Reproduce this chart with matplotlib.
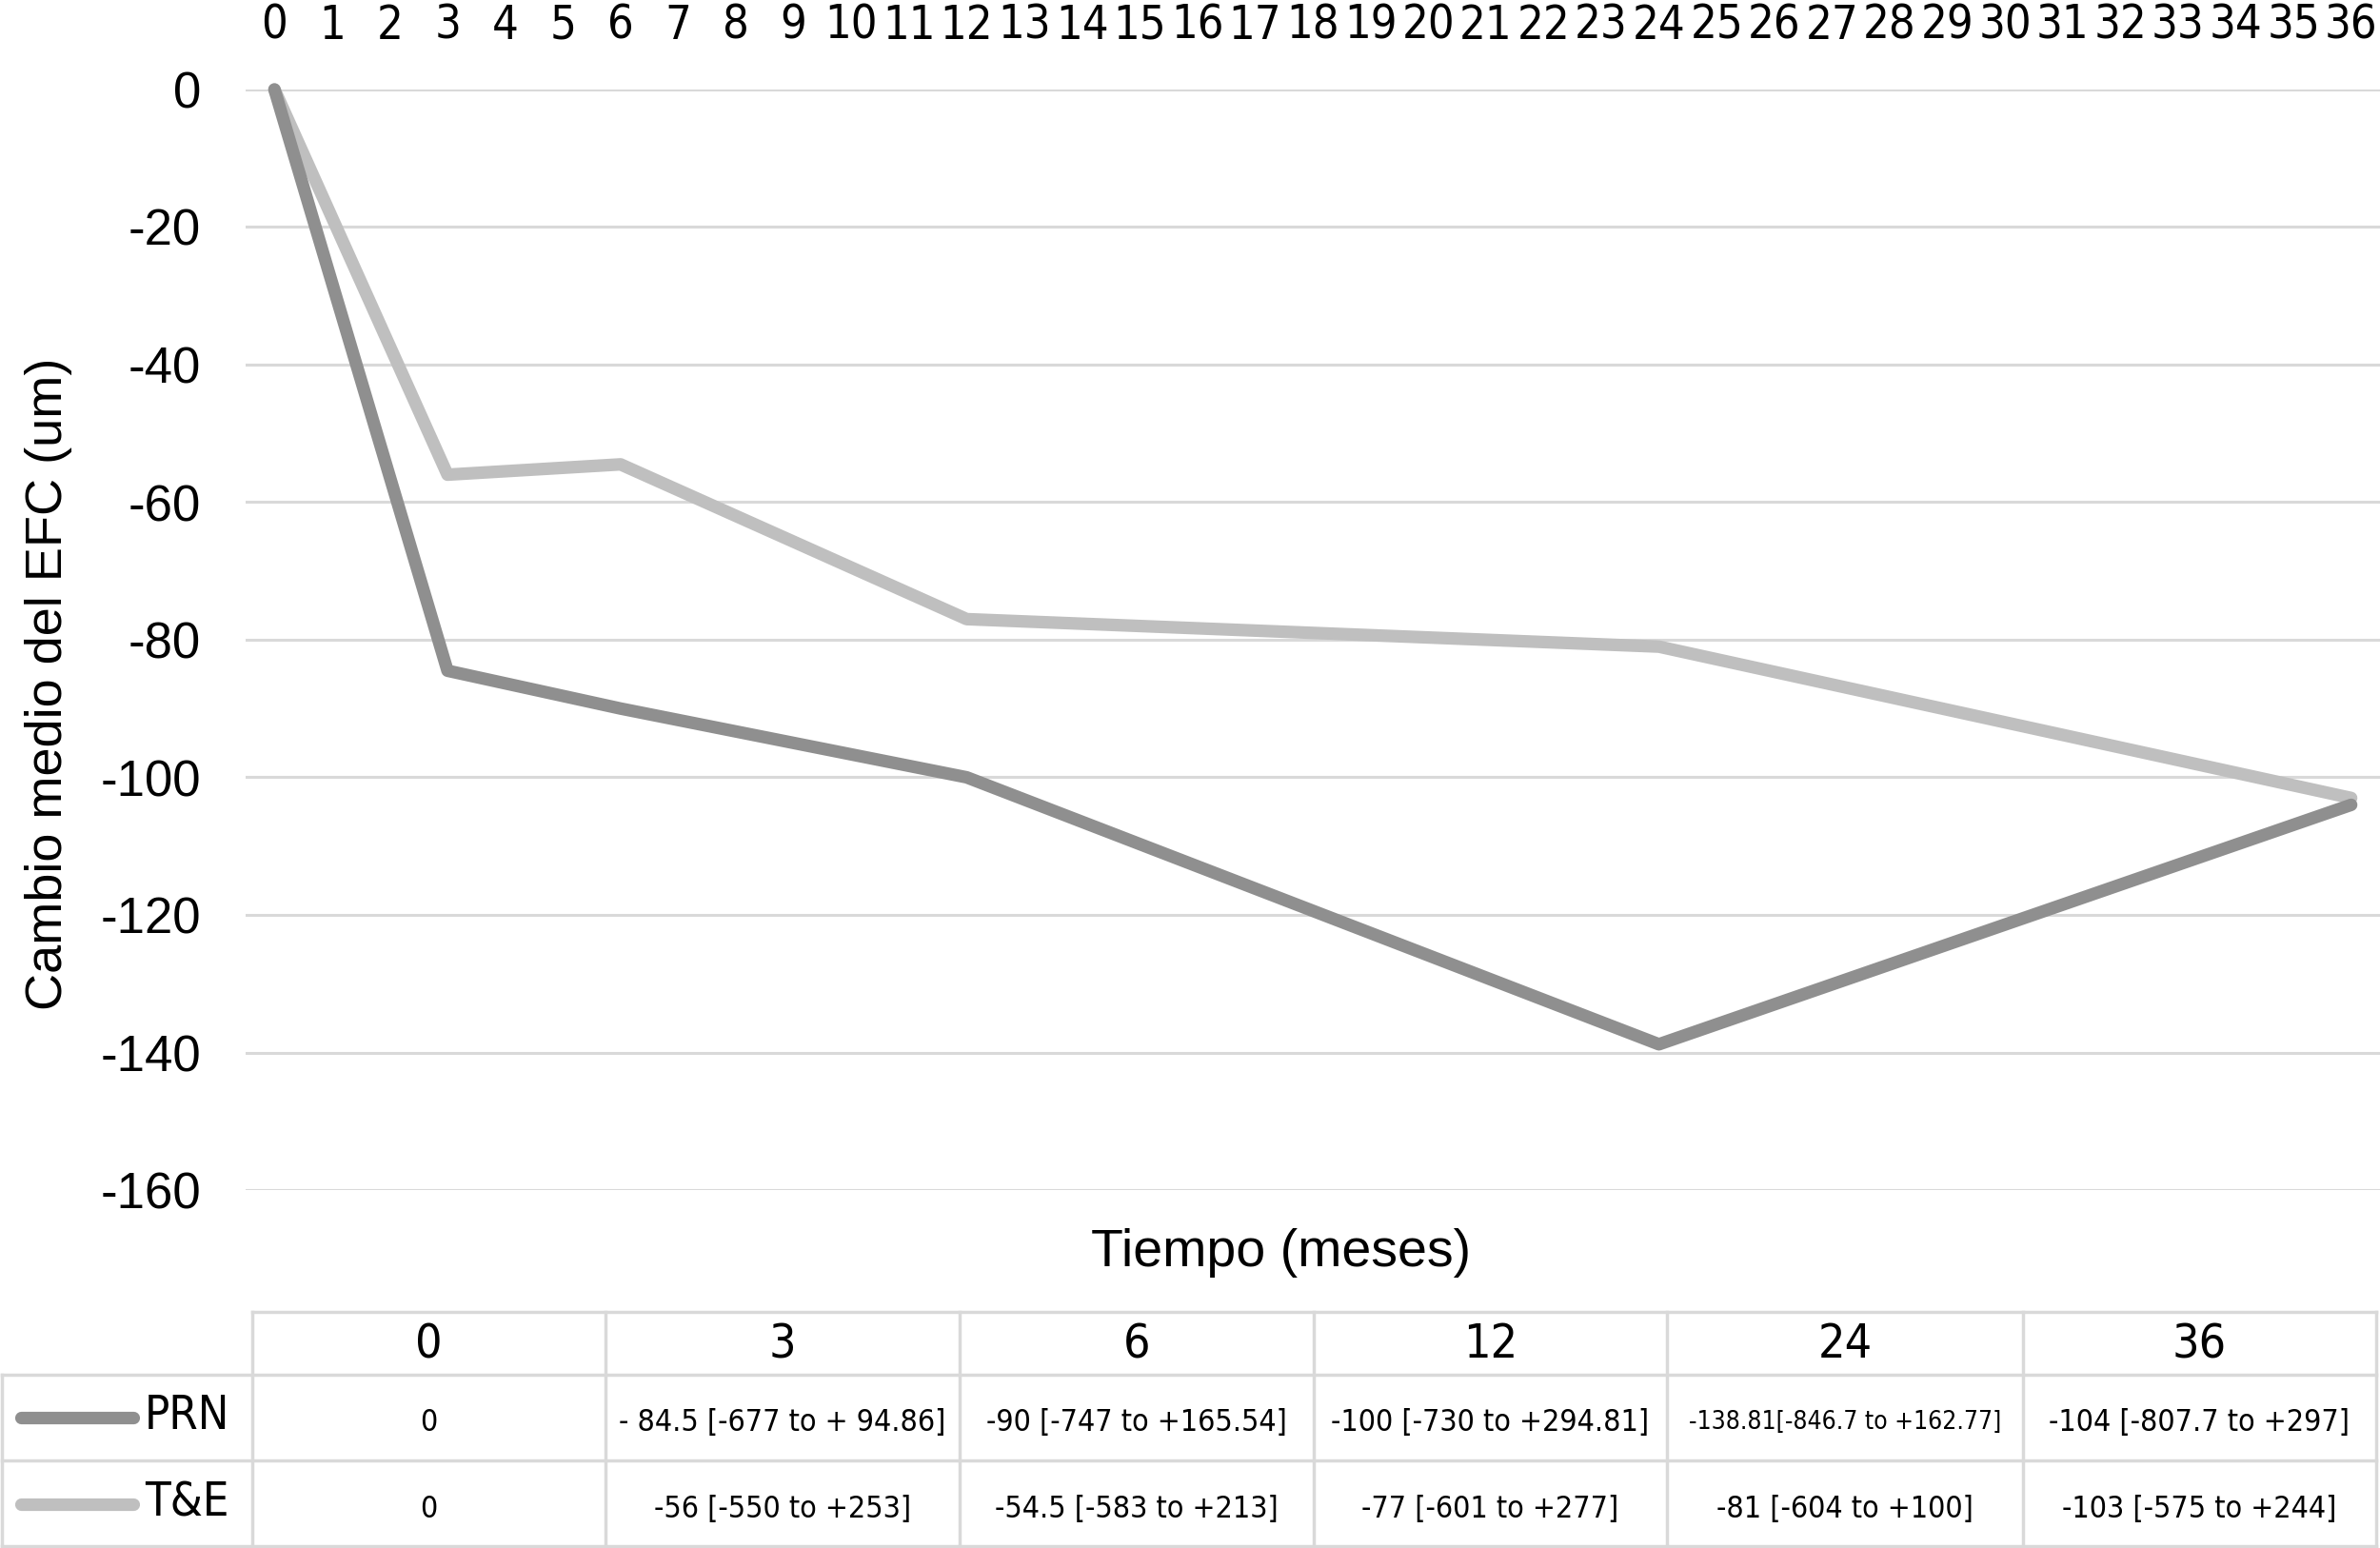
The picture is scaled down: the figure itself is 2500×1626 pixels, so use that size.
import numpy as np
import matplotlib
matplotlib.use("Agg")
import matplotlib.pyplot as plt

months = [0, 3, 6, 12, 24, 36]
prn = [0, -84.5, -90, -100, -138.81, -104]
te = [0, -56, -54.5, -77, -81, -103]
top_ticks = list(range(0, 37))
y_ticks = [0, -20, -40, -60, -80, -100, -120, -140, -160]

table_header = ["0", "3", "6", "12", "24", "36"]
prn_cells = ["0", "- 84.5 [-677 to + 94.86]", "-90 [-747 to +165.54]",
             "-100 [-730 to +294.81]", "-138.81[-846.7 to +162.77]",
             "-104 [-807.7 to +297]"]
te_cells = ["0", "-56 [-550 to +253]", "-54.5 [-583 to +213]",
            "-77 [-601 to +277]", "-81 [-604 to +100]", "-103 [-575 to +244]"]

PRN_COLOR = "#8f8f8f"
TE_COLOR = "#bfbfbf"
GRID = "#d9d9d9"
NARROW = dict(family=["DejaVu Sans"], stretch="condensed")
SANS = ["Liberation Sans", "DejaVu Sans"]

W, H = 2500, 1626
fig = plt.figure(figsize=(W / 100, H / 100), dpi=100)

# main chart, position in pixels
ax = fig.add_axes([258 / W, 1 - 1250 / H, (2500 - 258) / W, (1250 - 94) / H])
ax.plot(months, te, color=TE_COLOR, lw=9.5, clip_on=False, solid_capstyle="round", zorder=3)
ax.plot(months, prn, color=PRN_COLOR, lw=9.5, clip_on=False, solid_capstyle="round", zorder=3)
ax.set_xlim(-0.5, 36.5)
ax.set_ylim(-160, 0)
ax.set_yticks(y_ticks)
ax.set_yticklabels([str(v) for v in y_ticks], family=SANS, fontsize=38)
ax.yaxis.grid(True, color=GRID, lw=2.2)
ax.xaxis.tick_top()
ax.set_xticks(top_ticks)
ax.set_xticklabels([str(v) for v in top_ticks], fontsize=35, **NARROW)
ax.tick_params(axis="x", length=0, pad=31)
ax.tick_params(axis="y", length=0, pad=34)
for s in ax.spines.values():
    s.set_visible(False)

fig.text(51 / W, 1 - 718 / H, "Cambio medio del EFC (um)", rotation=90,
         ha="center", va="center", family=SANS, fontsize=39)
fig.text(1346 / W, 1 - 1316 / H, "Tiempo (meses)", ha="center", va="center",
         family=SANS, fontsize=40)

# data table below the chart, drawn in pixel coordinates
tab = fig.add_axes([0, 0, 1, 1])
tab.set_xlim(0, W)
tab.set_ylim(H, 0)
tab.axis("off")
col_x = [265, 636, 1008, 1380, 1751, 2125, 2496]
row_y = [1378, 1444, 1534, 1624]
tab.plot([col_x[0], col_x[-1]], [row_y[0], row_y[0]], color=GRID, lw=2.5)
for y in row_y[1:]:
    tab.plot([2, col_x[-1]], [y, y], color=GRID, lw=2.5)
for x in col_x:
    tab.plot([x, x], [row_y[0], row_y[-1]], color=GRID, lw=2.5)
tab.plot([2, 2], [row_y[1], row_y[-1]], color=GRID, lw=2.5)

for i, lab in enumerate(table_header):
    cx = (col_x[i] + col_x[i + 1]) / 2
    tab.text(cx, 1412, lab, ha="center", va="center", fontsize=36, **NARROW)
    tab.text(cx, 1494, prn_cells[i], ha="center", va="center",
             fontsize=19 if i == 4 else 23, **NARROW)
    tab.text(cx, 1585, te_cells[i], ha="center", va="center", fontsize=23, **NARROW)

for y, name, c in [(1489, "PRN", PRN_COLOR), (1580, "T&E", TE_COLOR)]:
    tab.plot([22, 140], [y, y], color=c, lw=9.5, solid_capstyle="round")
    tab.text(152, y - 2, name, ha="left", va="center", fontsize=35, **NARROW)

fig.savefig("out.png", dpi=100, facecolor="white")
